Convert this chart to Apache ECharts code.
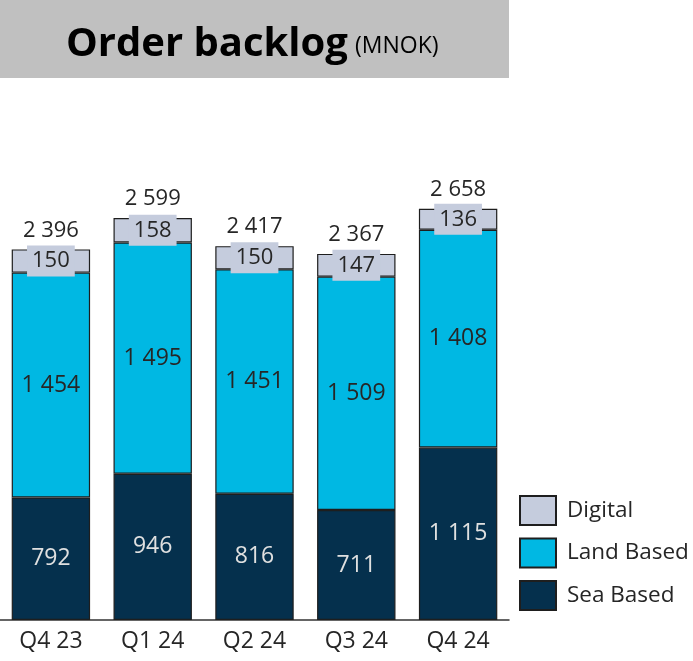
<!DOCTYPE html>
<html><head><meta charset="utf-8">
<script src="https://cdn.jsdelivr.net/npm/echarts@6/dist/echarts.min.js"></script>
<style>html,body{margin:0;padding:0;background:#fff}#c{width:693px;height:661px}</style>
</head><body><div id="c"></div>
<script>
const categories = ['Q4 23', 'Q1 24', 'Q2 24', 'Q3 24', 'Q4 24'];
const seaBased = [792, 946, 816, 711, 1115];
const landBased = [1454, 1495, 1451, 1509, 1408];
const digital = [150, 158, 150, 147, 136];
const totals = [2396, 2599, 2417, 2367, 2658];

const fmt = v => String(v).replace(/\B(?=(\d{3})+(?!\d))/g, ' ');
const FONT = 'Open Sans';
const TXT = '#262626';
const BORDER = '#1e1e1e';

const chart = echarts.init(document.getElementById('c'), null, {renderer: 'canvas'});
chart.setOption({
  animation: false,
  backgroundColor: '#ffffff',
  textStyle: {fontFamily: FONT},
  graphic: [
    {type: 'rect', shape: {x: 0, y: 0, width: 509, height: 78}, style: {fill: '#C0C0C0'}, z: 0},
    {type: 'text', left: 66, top: 25, style: {text: 'Order backlog', font: 'bold 40px "' + FONT + '"', fill: '#000'}, z: 1},
    {type: 'text', left: 355, top: 35, style: {text: '(MNOK)', font: '23px "' + FONT + '"', fill: '#000'}, z: 1}
  ],
  legend: {
    orient: 'vertical', left: 519, top: 495, padding: 0,
    itemWidth: 36, itemHeight: 29, itemGap: 11.5,
    icon: 'rect',
    data: ['Digital', 'Land Based', 'Sea Based'],
    textStyle: {fontSize: 22.5, lineHeight: 26, color: TXT, fontFamily: FONT, padding: [0, 0, 0, 6]}
  },
  grid: {left: 0, right: 184, top: 156, bottom: 41, containLabel: false},
  xAxis: {
    type: 'category', data: categories,
    axisLine: {lineStyle: {color: '#333', width: 1.5}},
    axisTick: {show: false},
    axisLabel: {fontSize: 23, color: TXT, fontFamily: FONT, margin: 10}
  },
  yAxis: {type: 'value', min: 0, max: 3000, show: false, splitLine: {show: false}},
  series: [
    {
      name: 'Sea Based', type: 'bar', stack: 's', data: seaBased, barWidth: '77%',
      itemStyle: {color: '#05304D', borderColor: BORDER, borderWidth: 1.2},
      label: {show: true, position: 'inside', fontSize: 23, color: '#E0E0E0', fontFamily: FONT, formatter: p => fmt(p.value)}
    },
    {
      name: 'Land Based', type: 'bar', stack: 's', data: landBased,
      itemStyle: {color: '#00B8E3', borderColor: BORDER, borderWidth: 1.2},
      label: {show: true, position: 'inside', fontSize: 23, color: TXT, fontFamily: FONT, formatter: p => fmt(p.value)}
    },
    {
      name: 'Digital', type: 'bar', stack: 's', data: digital,
      itemStyle: {color: '#C5CCDD', borderColor: BORDER, borderWidth: 1.2},
      label: {show: true, position: 'inside', fontSize: 22, color: TXT, fontFamily: FONT,
        backgroundColor: '#C5CCDD', padding: [5, 5, 4, 5], formatter: p => fmt(p.value)}
    },
    {
      name: 'Total', type: 'bar', stack: 's', data: totals.map(() => 0),
      itemStyle: {color: 'transparent'},
      label: {show: true, position: 'top', distance: 8, fontSize: 22, color: TXT, fontFamily: FONT,
        formatter: p => fmt(totals[p.dataIndex])}
    }
  ]
});
</script></body></html>
